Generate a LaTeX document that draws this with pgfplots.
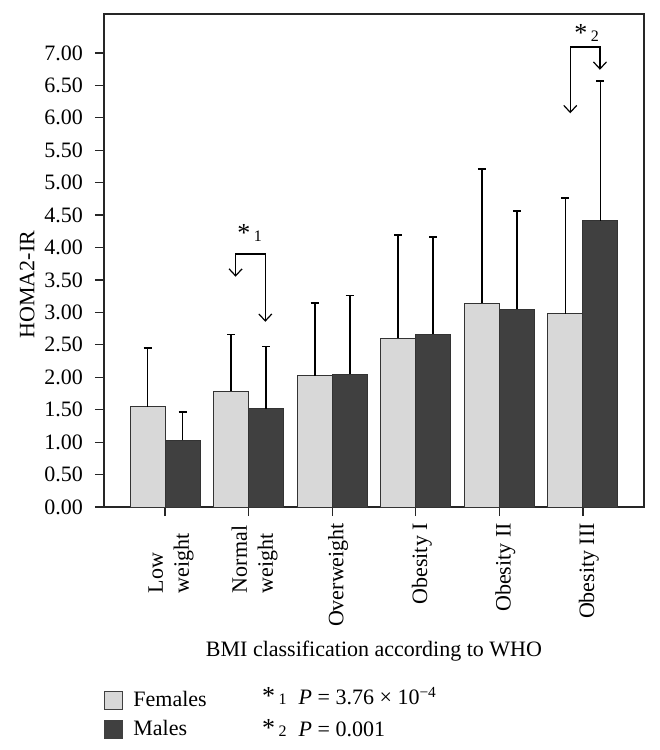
\documentclass[border=0pt]{standalone}
\usepackage{fontspec}
\setmainfont{Liberation Serif}
\usepackage{pgfplots}
\pgfplotsset{compat=1.18}
\usetikzlibrary{arrows.meta}
\definecolor{fem}{HTML}{D8D8D8}
\definecolor{mal}{HTML}{404040}
\newcommand{\fs}{\fontsize{11}{13}\selectfont}
\newcommand{\st}[1]{{\fontsize{13}{13}\selectfont *}\,{\footnotesize #1}}
\begin{document}
\begin{tikzpicture}
\begin{axis}[
  name=ax,
  at={(0,0)}, anchor=south west,
  scale only axis,
  width=270pt, height=246.5pt,
  xmin=-0.73, xmax=5.73,
  ymin=0, ymax=7.6,
  clip=false,
  ybar=0pt, bar width=17.5pt,
  axis line style={black!85, line width=0.6pt},
  tick style={black!85, line width=0.6pt},
  major tick length=4.5pt,
  tick align=outside,
  xtick={0,1,2,3,4,5},
  xticklabels={{\parbox[c]{35pt}{Low\\weight}},{\parbox[c]{35pt}{Normal\\weight}},Overweight,Obesity I,Obesity II,Obesity III},
  xticklabel style={rotate=90, anchor=east, font=\fs, yshift=-3pt},
  xtick pos=bottom,
  ytick={0,0.5,...,7.01},
  ytick pos=left,
  yticklabel style={font=\fs, xshift=-2.5pt, /pgf/number format/.cd, fixed, fixed zerofill, precision=2, assume math mode=true},
  ylabel={HOMA2-IR},
  ylabel style={font=\fs, at={(ticklabel cs:0.451)}, anchor=near ticklabel, yshift=-2pt},
  xlabel={BMI classification according to WHO},
  xlabel style={font=\fs},
  legend style={at={(rel axis cs:0,-0.365)}, anchor=north west, draw=none, inner sep=0pt, font=\fs, row sep=1.5pt, legend cell align=left},
  legend image code/.code={\draw[#1, line width=0.5pt, draw=black!75] (0pt,-4.5pt) rectangle (9pt,4.5pt);},
  error bars/y dir=plus,
  error bars/y explicit,
  error bars/error bar style={black, line width=0.85pt},
  error bars/error mark options={black, line width=0.85pt, mark size=2pt, rotate=90},
]
\addplot[fill=fem, draw=black!80, line width=0.5pt] coordinates {
  (0,1.545) +- (0,0.910)
  (1,1.787) +- (0,0.873)
  (2,2.023) +- (0,1.125)
  (3,2.604) +- (0,1.587)
  (4,3.140) +- (0,2.070)
  (5,2.980) +- (0,1.780)
};
\addplot[fill=mal, draw=black!80, line width=0.5pt] coordinates {
  (0,1.032) +- (0,0.432)
  (1,1.515) +- (0,0.961)
  (2,2.049) +- (0,1.211)
  (3,2.666) +- (0,1.499)
  (4,3.050) +- (0,1.516)
  (5,4.410) +- (0,2.160)
};
\legend{\hspace{3pt}Females,\hspace{3pt}Males}
\draw[black, line width=0.6pt, {Straight Barb[length=3.5pt,width=6.5pt]}-{Straight Barb[length=3.5pt,width=6.5pt]}]
  (axis cs:0.844,3.55) |- (axis cs:1.200,3.90) -- (axis cs:1.200,2.855);
\node[font=\fs] at (axis cs:1.012,4.22) {\st{1}};
\draw[black, line width=0.6pt, {Straight Barb[length=3.5pt,width=6.5pt]}-{Straight Barb[length=3.5pt,width=6.5pt]}]
  (axis cs:4.848,6.07) |- (axis cs:5.203,7.09) -- (axis cs:5.203,6.74);
\node[font=\fs] at (axis cs:5.044,7.31) {\st{2}};
\node[font=\fs, anchor=base west, inner sep=0pt] at (rel axis cs:0.292,-0.4016) {\st{1}\hspace{6pt}\textit{P} = 3.76 × 10\textsuperscript{−4}};
\node[font=\fs, anchor=base west, inner sep=0pt] at (rel axis cs:0.292,-0.4645) {\st{2}\hspace{6pt}\textit{P} = 0.001};
\end{axis}
\pgfresetboundingbox
\path[use as bounding box] (-52pt,-121.5pt) rectangle (277.5pt,253.5pt);
\end{tikzpicture}
\end{document}
